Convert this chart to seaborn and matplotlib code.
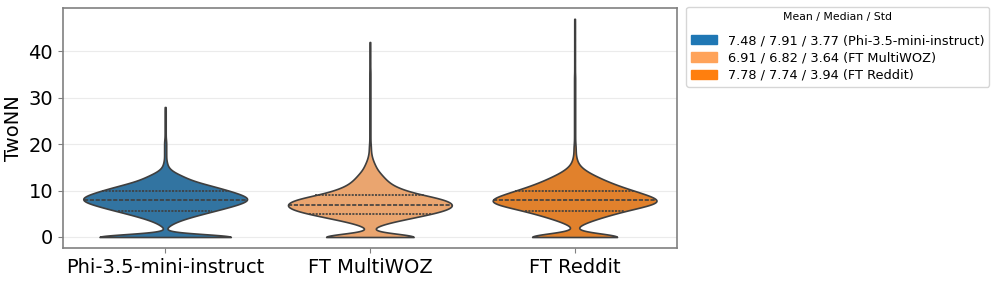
import numpy as np
import pandas as pd
import matplotlib
matplotlib.use("Agg")
import matplotlib.pyplot as plt
import matplotlib.patches as mpatches
import seaborn as sns

models = ["Phi-3.5-mini-instruct", "FT MultiWOZ", "FT Reddit"]
colors = ["#1f77b4", "#ffa35a", "#ff7f0e"]
stats = ["7.48 / 7.91 / 3.77", "6.91 / 6.82 / 3.64", "7.78 / 7.74 / 3.94"]

# TwoNN estimates, binned: value level -> number of samples at that level
levels = [0, 1.5, 2, 2.5, 3, 3.5, 4, 4.5, 5, 5.5, 6, 6.5, 7, 7.5, 8, 8.5, 9,
          9.5, 10, 10.5, 11, 11.5, 12, 12.5, 13, 13.5, 14, 14.5, 15, 15.5,
          16, 16.5, 17, 17.5, 18, 18.5]
phi_counts = [190, 0, 1, 4, 8, 13, 20, 28, 36, 45, 54, 62, 70, 77, 81, 80, 75,
              68, 61, 53, 45, 36, 28, 22, 18, 13, 8, 5, 3, 2,
              2, 1, 1, 1, 1, 1]
woz_counts = [149, 1, 3, 8, 16, 27, 38, 49, 60, 70, 77, 81, 82, 79, 73, 67, 50,
              42, 35, 28, 23, 20, 17, 15, 13, 11, 9, 7, 6, 5,
              4, 3, 2, 2, 1, 1]
reddit_counts = [149, 0, 1, 4, 9, 15, 22, 29, 36, 44, 53, 63, 73, 81, 79, 74, 67,
                 61, 54, 47, 41, 35, 30, 25, 21, 16, 12, 9, 6, 4,
                 3, 2, 2, 1, 1, 1]
# single samples in the long upper tails
phi_tail = [19, 19.5, 20, 20.5, 21, 22, 23, 24, 25, 26, 27, 28]
woz_tail = [19, 19.5, 20, 21, 22, 23, 24, 25, 26, 27, 28, 29, 30, 31,
            32, 33, 34, 35, 36, 37.5, 39, 40.5, 42]
reddit_tail = [19, 19.5, 20, 21, 22, 23, 24, 25, 26, 27, 28, 29, 30, 31,
               32, 33, 34, 35, 36.5, 38, 39.5, 41, 42.5, 44, 45.5, 47]

frames = []
for name, counts, tail in [(models[0], phi_counts, phi_tail),
                           (models[1], woz_counts, woz_tail),
                           (models[2], reddit_counts, reddit_tail)]:
    vals = np.concatenate([np.repeat(levels, counts), tail])
    frames.append(pd.DataFrame({"model": name, "TwoNN": vals}))
df = pd.concat(frames, ignore_index=True)

fig, ax = plt.subplots(figsize=(9.97, 2.83), dpi=100)
ax.set_axisbelow(True)
ax.yaxis.grid(True, color="#ebebeb", linewidth=0.8)

sns.violinplot(data=df, x="model", y="TwoNN", hue="model", order=models,
               hue_order=models, palette=colors, inner="quart", cut=0,
               density_norm="width", bw_method=0.145, gridsize=500,
               linewidth=1.2, legend=False, ax=ax)

ax.set_xlabel("")
ax.set_ylabel("TwoNN", fontsize=14)
ax.set_yticks([0, 10, 20, 30, 40])
ax.tick_params(axis="both", labelsize=14, color="#808080")
for s in ax.spines.values():
    s.set_color("#808080")
    s.set_linewidth(1.2)

handles = [mpatches.Patch(color=c) for c in colors]
labels = [f"{s} ({m})" for s, m in zip(stats, models)]
leg = ax.legend(handles, labels, title="Mean / Median / Std", title_fontsize=7.8,
                fontsize=9.3, labelspacing=0.32, loc="upper left",
                bbox_to_anchor=(1.015, 1.005), borderaxespad=0)
leg._legend_box.sep = 9  # a bit more room under the title

plt.subplots_adjust(left=0.063, right=0.679, top=0.972, bottom=0.124)
plt.savefig("out.png", dpi=100)
plt.close()
